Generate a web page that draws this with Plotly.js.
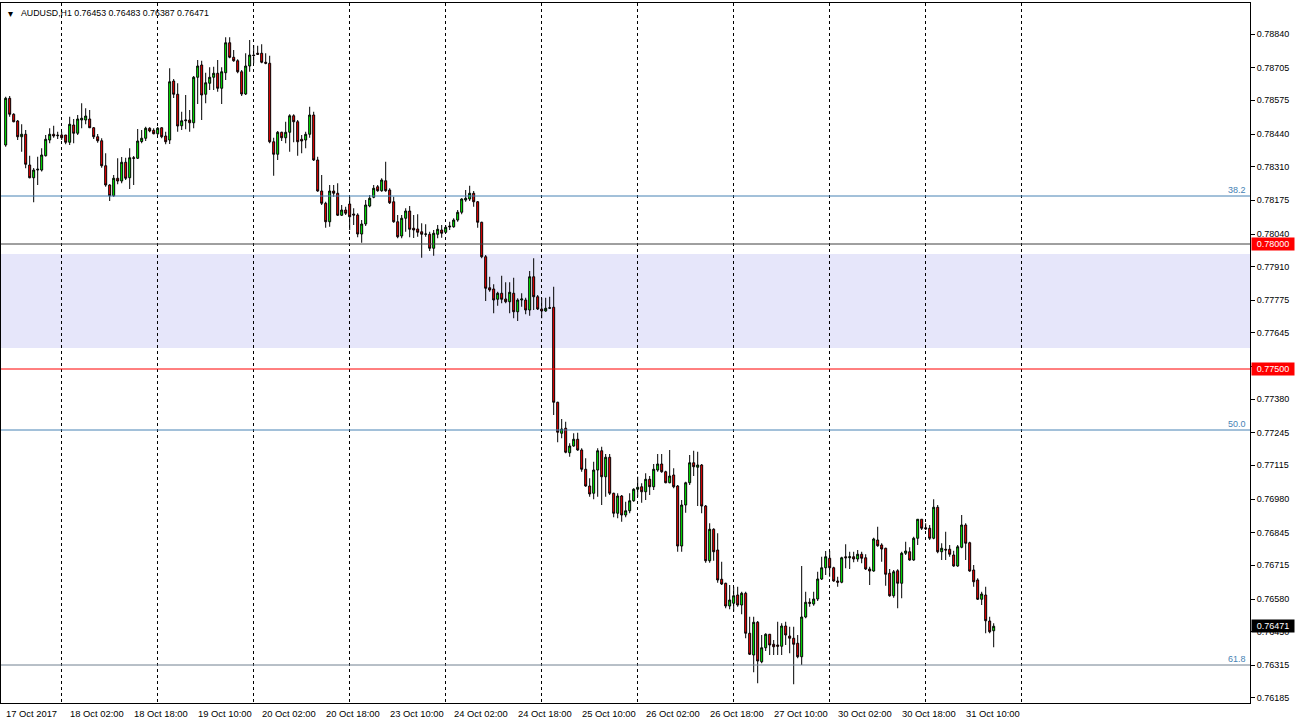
<!DOCTYPE html>
<html><head><meta charset="utf-8">
<script src="https://cdn.plot.ly/plotly-3.0.1.min.js"></script>
<style>html,body{margin:0;padding:0;background:#fff;}#chart{width:1296px;height:725px;}</style>
</head><body><div id="chart"></div>
<script>
const symbolTitle = "AUDUSD,H1";
const lastOHLC = ["0.76453", "0.76483", "0.76387", "0.76471"];

const openP = [0.78396,0.78583,0.78519,0.78492,0.78429,0.78439,0.78316,0.78265,0.78296,0.78296,0.78353,0.78416,0.78439,0.78433,0.78436,0.78436,0.78407,0.78476,0.78443,0.78496,0.78496,0.78500,0.78465,0.78429,0.78413,0.78313,0.78236,0.78193,0.78263,0.78252,0.78327,0.78265,0.78345,0.78343,0.78410,0.78423,0.78463,0.78455,0.78441,0.78465,0.78432,0.78416,0.78652,0.78599,0.78473,0.78493,0.78496,0.78485,0.78667,0.78716,0.78599,0.78643,0.78667,0.78683,0.78623,0.78685,0.78805,0.78747,0.78733,0.78689,0.78600,0.78712,0.78756,0.78763,0.78763,0.78727,0.78723,0.78409,0.78359,0.78447,0.78425,0.78447,0.78513,0.78489,0.78419,0.78416,0.78439,0.78516,0.78336,0.78212,0.78163,0.78089,0.78212,0.78203,0.78115,0.78136,0.78160,0.78120,0.78116,0.78040,0.78080,0.78152,0.78187,0.78229,0.78213,0.78253,0.78216,0.78169,0.78089,0.78032,0.78103,0.78132,0.78063,0.78060,0.78049,0.78039,0.78039,0.77983,0.78039,0.78056,0.78047,0.78072,0.78069,0.78096,0.78127,0.78176,0.78180,0.78203,0.78169,0.78087,0.77949,0.77825,0.77820,0.77779,0.77803,0.77780,0.77769,0.77803,0.77729,0.77776,0.77776,0.77736,0.77869,0.77789,0.77740,0.77732,0.77743,0.77747,0.77367,0.77243,0.77263,0.77165,0.77192,0.77219,0.77176,0.77099,0.77032,0.77003,0.77096,0.77173,0.77069,0.77147,0.77003,0.76923,0.76992,0.76916,0.76933,0.76973,0.77019,0.77029,0.77009,0.77059,0.77029,0.77096,0.77120,0.77089,0.77045,0.77076,0.77032,0.76792,0.76956,0.77045,0.77125,0.77107,0.77116,0.76952,0.76733,0.76859,0.76776,0.76659,0.76643,0.76552,0.76563,0.76596,0.76556,0.76603,0.76443,0.76356,0.76487,0.76329,0.76385,0.76439,0.76399,0.76396,0.76391,0.76472,0.76432,0.76423,0.76403,0.76349,0.76508,0.76567,0.76560,0.76580,0.76660,0.76705,0.76743,0.76705,0.76652,0.76647,0.76749,0.76745,0.76749,0.76740,0.76759,0.76745,0.76700,0.76692,0.76816,0.76796,0.76783,0.76683,0.76593,0.76693,0.76643,0.76763,0.76769,0.76736,0.76823,0.76899,0.76865,0.76863,0.76823,0.76947,0.76769,0.76779,0.76779,0.76756,0.76712,0.76787,0.76876,0.76805,0.76696,0.76656,0.76579,0.76596,0.76492,0.76453];
const highP = [0.78589,0.78592,0.78523,0.78496,0.78479,0.78456,0.78353,0.78304,0.78349,0.78383,0.78436,0.78463,0.78473,0.78449,0.78449,0.78436,0.78509,0.78500,0.78516,0.78563,0.78543,0.78536,0.78468,0.78440,0.78423,0.78363,0.78239,0.78276,0.78343,0.78348,0.78345,0.78383,0.78352,0.78460,0.78456,0.78469,0.78467,0.78463,0.78468,0.78467,0.78449,0.78703,0.78660,0.78643,0.78529,0.78596,0.78536,0.78672,0.78736,0.78733,0.78685,0.78707,0.78709,0.78736,0.78707,0.78827,0.78827,0.78776,0.78739,0.78696,0.78763,0.78816,0.78796,0.78793,0.78799,0.78763,0.78753,0.78425,0.78452,0.78449,0.78489,0.78519,0.78519,0.78496,0.78436,0.78449,0.78549,0.78529,0.78349,0.78276,0.78169,0.78236,0.78236,0.78243,0.78156,0.78149,0.78189,0.78143,0.78123,0.78096,0.78176,0.78196,0.78236,0.78236,0.78263,0.78329,0.78223,0.78189,0.78116,0.78116,0.78143,0.78152,0.78116,0.78119,0.78083,0.78079,0.78049,0.78056,0.78076,0.78076,0.78076,0.78089,0.78103,0.78136,0.78183,0.78216,0.78233,0.78212,0.78172,0.78089,0.77956,0.77869,0.77839,0.77809,0.77873,0.77847,0.77847,0.77865,0.77783,0.77803,0.77785,0.77892,0.77943,0.77796,0.77785,0.77785,0.77789,0.77829,0.77369,0.77300,0.77289,0.77203,0.77243,0.77245,0.77183,0.77143,0.77063,0.77129,0.77183,0.77189,0.77160,0.77160,0.77005,0.77003,0.76996,0.76969,0.77003,0.77023,0.77069,0.77043,0.77083,0.77072,0.77120,0.77160,0.77160,0.77093,0.77176,0.77103,0.77036,0.76976,0.77049,0.77156,0.77173,0.77169,0.77120,0.76956,0.76883,0.76863,0.76843,0.76729,0.76645,0.76636,0.76629,0.76629,0.76609,0.76609,0.76509,0.76509,0.76492,0.76436,0.76443,0.76440,0.76416,0.76489,0.76483,0.76489,0.76469,0.76469,0.76436,0.76712,0.76609,0.76583,0.76609,0.76689,0.76749,0.76772,0.76772,0.76709,0.76669,0.76749,0.76799,0.76769,0.76769,0.76776,0.76769,0.76759,0.76709,0.76825,0.76869,0.76803,0.76785,0.76700,0.76696,0.76699,0.76769,0.76809,0.76787,0.76829,0.76899,0.76899,0.76883,0.76876,0.76979,0.76956,0.76803,0.76849,0.76796,0.76773,0.76796,0.76916,0.76883,0.76809,0.76716,0.76663,0.76609,0.76629,0.76509,0.76483];
const lowP = [0.78389,0.78509,0.78487,0.78416,0.78369,0.78303,0.78263,0.78167,0.78236,0.78290,0.78350,0.78403,0.78425,0.78420,0.78416,0.78399,0.78396,0.78403,0.78436,0.78463,0.78479,0.78464,0.78420,0.78405,0.78305,0.78229,0.78172,0.78189,0.78239,0.78243,0.78256,0.78220,0.78236,0.78340,0.78403,0.78412,0.78447,0.78439,0.78436,0.78423,0.78399,0.78400,0.78584,0.78449,0.78456,0.78459,0.78449,0.78463,0.78560,0.78496,0.78563,0.78616,0.78616,0.78609,0.78560,0.78656,0.78743,0.78729,0.78683,0.78592,0.78596,0.78689,0.78723,0.78756,0.78723,0.78719,0.78403,0.78273,0.78336,0.78412,0.78403,0.78369,0.78407,0.78353,0.78363,0.78383,0.78425,0.78332,0.78209,0.78156,0.78065,0.78069,0.78189,0.78112,0.78112,0.78116,0.78056,0.78076,0.78027,0.78005,0.78072,0.78147,0.78183,0.78209,0.78209,0.78209,0.78160,0.78085,0.78023,0.78023,0.78049,0.78027,0.78024,0.78029,0.77945,0.78029,0.77972,0.77953,0.78023,0.78025,0.78043,0.78056,0.78065,0.78089,0.78119,0.78169,0.78172,0.78149,0.78065,0.77943,0.77772,0.77809,0.77723,0.77753,0.77763,0.77763,0.77723,0.77703,0.77692,0.77749,0.77719,0.77713,0.77736,0.77736,0.77703,0.77729,0.77740,0.77316,0.77207,0.77223,0.77163,0.77149,0.77189,0.77173,0.77089,0.77029,0.76989,0.76979,0.76989,0.76956,0.76989,0.76996,0.76907,0.76903,0.76889,0.76907,0.76923,0.76969,0.76989,0.76965,0.76976,0.76996,0.77016,0.77089,0.77085,0.77043,0.77043,0.77023,0.76769,0.76769,0.76925,0.77036,0.77072,0.76952,0.76923,0.76725,0.76725,0.76733,0.76645,0.76636,0.76543,0.76539,0.76530,0.76549,0.76519,0.76423,0.76356,0.76287,0.76243,0.76323,0.76372,0.76356,0.76356,0.76356,0.76356,0.76396,0.76363,0.76239,0.76343,0.76316,0.76503,0.76549,0.76553,0.76572,0.76656,0.76676,0.76669,0.76649,0.76629,0.76643,0.76703,0.76700,0.76727,0.76729,0.76723,0.76696,0.76636,0.76689,0.76789,0.76729,0.76633,0.76589,0.76585,0.76543,0.76583,0.76756,0.76733,0.76733,0.76796,0.76856,0.76856,0.76816,0.76819,0.76763,0.76736,0.76736,0.76749,0.76709,0.76709,0.76783,0.76736,0.76689,0.76629,0.76576,0.76556,0.76443,0.76443,0.76387];
const closeP = [0.78583,0.78519,0.78489,0.78429,0.78439,0.78319,0.78265,0.78296,0.78299,0.78356,0.78419,0.78439,0.78432,0.78435,0.78425,0.78407,0.78479,0.78443,0.78500,0.78503,0.78512,0.78465,0.78429,0.78413,0.78313,0.78236,0.78193,0.78263,0.78252,0.78327,0.78263,0.78345,0.78343,0.78412,0.78423,0.78463,0.78452,0.78441,0.78463,0.78429,0.78409,0.78649,0.78599,0.78472,0.78493,0.78496,0.78485,0.78667,0.78712,0.78596,0.78645,0.78667,0.78683,0.78623,0.78689,0.78805,0.78747,0.78733,0.78689,0.78600,0.78712,0.78756,0.78754,0.78759,0.78727,0.78723,0.78409,0.78359,0.78447,0.78425,0.78447,0.78513,0.78489,0.78409,0.78412,0.78439,0.78516,0.78336,0.78212,0.78163,0.78089,0.78212,0.78203,0.78115,0.78136,0.78123,0.78109,0.78116,0.78040,0.78080,0.78156,0.78183,0.78223,0.78213,0.78256,0.78213,0.78165,0.78089,0.78029,0.78103,0.78132,0.78059,0.78056,0.78047,0.78039,0.78040,0.77983,0.78043,0.78059,0.78043,0.78067,0.78069,0.78096,0.78127,0.78180,0.78183,0.78203,0.78169,0.78087,0.77949,0.77823,0.77816,0.77776,0.77803,0.77779,0.77769,0.77807,0.77729,0.77776,0.77780,0.77736,0.77869,0.77789,0.77740,0.77732,0.77743,0.77745,0.77367,0.77247,0.77260,0.77167,0.77192,0.77219,0.77176,0.77099,0.77032,0.77000,0.77096,0.77173,0.77069,0.77147,0.77003,0.76923,0.76992,0.76916,0.76933,0.76973,0.77019,0.77027,0.77009,0.77059,0.77029,0.77099,0.77120,0.77089,0.77045,0.77072,0.77029,0.76792,0.76956,0.77045,0.77125,0.77109,0.77116,0.76952,0.76733,0.76859,0.76769,0.76656,0.76640,0.76552,0.76576,0.76593,0.76556,0.76603,0.76443,0.76359,0.76487,0.76332,0.76385,0.76439,0.76396,0.76389,0.76391,0.76472,0.76436,0.76423,0.76399,0.76349,0.76508,0.76567,0.76563,0.76580,0.76660,0.76705,0.76749,0.76705,0.76652,0.76647,0.76745,0.76745,0.76749,0.76740,0.76759,0.76743,0.76700,0.76692,0.76820,0.76793,0.76780,0.76679,0.76593,0.76689,0.76643,0.76763,0.76772,0.76736,0.76823,0.76899,0.76863,0.76861,0.76823,0.76947,0.76769,0.76783,0.76776,0.76759,0.76712,0.76789,0.76876,0.76803,0.76692,0.76649,0.76579,0.76600,0.76493,0.76449,0.76471];

const timeLabels = ["17 Oct 2017","18 Oct 02:00","18 Oct 18:00","19 Oct 10:00","20 Oct 02:00","20 Oct 18:00","23 Oct 10:00","24 Oct 02:00","24 Oct 18:00","25 Oct 10:00","26 Oct 02:00","26 Oct 18:00","27 Oct 10:00","30 Oct 02:00","30 Oct 18:00","31 Oct 10:00"];
const labelEveryBars = 16;
const firstDayStartBar = 14;   // 18 Oct 00:00
const barsPerDay = 24;
const priceTicks = [0.78840,0.78705,0.78575,0.78440,0.78310,0.78175,0.78040,0.77910,0.77775,0.77645,0.77510,0.77380,0.77245,0.77115,0.76980,0.76845,0.76715,0.76580,0.76450,0.76315,0.76185];

const fibLevels = [0.78192, 0.77256, 0.76316];
const fibNames = ["38.2", "50.0", "61.8"];
const roundLevels = [0.78000, 0.77500];
const zoneBottom = 0.77584, zoneTop = 0.77960;

const xIdx = closeP.map((_, i) => i);
const dayStarts = [];
for (let b = firstDayStartBar; b <= xIdx.length + 7; b += barsPerDay) dayStarts.push(b);

const candles = {
  type: 'candlestick',
  x: xIdx, open: openP, high: highP, low: lowP, close: closeP,
  increasing: {line: {color: '#000000', width: 1}, fillcolor: '#00ff00'},
  decreasing: {line: {color: '#000000', width: 1}, fillcolor: '#ff0000'},
  whiskerwidth: 0,
  hoverinfo: 'skip',
  showlegend: false
};

const fibColor = '#4682b4';
const shapes = [
  {type:'rect', xref:'paper', x0:0, x1:1, yref:'y', y0:zoneBottom, y1:zoneTop, fillcolor:'#e6e6fa', line:{width:0}, layer:'below'},
  {type:'line', xref:'paper', x0:0, x1:1, yref:'y', y0:fibLevels[0], y1:fibLevels[0], line:{color:fibColor, width:1}},
  {type:'line', xref:'paper', x0:0, x1:1, yref:'y', y0:fibLevels[1], y1:fibLevels[1], line:{color:fibColor, width:1}},
  {type:'line', xref:'paper', x0:0, x1:1, yref:'y', y0:fibLevels[2], y1:fibLevels[2], line:{color:'#708090', width:1}},
  {type:'line', xref:'paper', x0:0, x1:1, yref:'y', y0:roundLevels[0], y1:roundLevels[0], line:{color:'#404040', width:1}},
  {type:'line', xref:'paper', x0:0, x1:1, yref:'y', y0:roundLevels[1], y1:roundLevels[1], line:{color:'#ff0000', width:1}}
];

const annotations = [];
const fnt = 'Liberation Sans, Arial, sans-serif';
timeLabels.forEach((t, k) => {
  annotations.push({xref:'x', x: k*labelEveryBars - 0.35, yref:'paper', y: 0, yshift: -3, xanchor:'left', yanchor:'top',
    text: t, showarrow:false, font:{family:fnt, size:9.4, color:'#000'}});
});
fibLevels.forEach((v, k) => {
  annotations.push({xref:'paper', x: 0.998, yref:'y', y: v, xanchor:'right', yanchor:'bottom', yshift:-1,
    text: fibNames[k], showarrow:false, font:{family:fnt, size:9, color: fibColor}});
});
roundLevels.forEach(v => {
  annotations.push({xref:'paper', x: 1, xshift: 1, yref:'y', y: v, xanchor:'left', yanchor:'middle',
    text: v.toFixed(5), showarrow:false, bgcolor:'#ff0000', borderpad:1, width:40,
    font:{family:fnt, size:9, color:'#ffffff'}});
});
annotations.push({xref:'paper', x: 1, xshift: 1, yref:'y', y: closeP[closeP.length-1], xanchor:'left', yanchor:'middle',
  text: closeP[closeP.length-1].toFixed(5), showarrow:false, bgcolor:'#000000', borderpad:1, width:40,
  font:{family:fnt, size:9, color:'#ffffff'}});
annotations.push({xref:'paper', x: 0, xshift: 5, yref:'paper', y: 1, yshift: -3, xanchor:'left', yanchor:'top',
  text: '\u25BE', showarrow:false, font:{family:'DejaVu Sans', size:10, color:'#000'}});
annotations.push({xref:'paper', x: 0, xshift: 18, yref:'paper', y: 1, yshift: -3, xanchor:'left', yanchor:'top',
  text: symbolTitle + ' ' + lastOHLC.join(' '), showarrow:false, font:{family:fnt, size:8.8, color:'#000'}});

const layout = {
  width: 1296, height: 725,
  margin: {l: 1, r: 46, t: 3, b: 22, pad: 0},
  paper_bgcolor: '#ffffff', plot_bgcolor: '#ffffff',
  showlegend: false,
  xaxis: {
    range: [-1.17, 311.08], rangeslider: {visible: false},
    showgrid: true, gridcolor: '#000000', gridwidth: 1, griddash: '3px,3px',
    tickmode: 'array', tickvals: dayStarts,
    showticklabels: false, ticks: '', zeroline: false,
    showline: true, linecolor: '#000000', linewidth: 1, mirror: true
  },
  yaxis: {
    side: 'right', range: [0.76164, 0.78964],
    tickmode: 'array', tickvals: priceTicks, ticktext: priceTicks.map(v => v.toFixed(5)),
    ticks: 'outside', ticklen: 4, tickcolor: '#000', tickfont: {family: fnt, size: 9, color: '#000'},
    showgrid: false, zeroline: false,
    showline: true, linecolor: '#000000', linewidth: 1, mirror: true
  },
  shapes: shapes,
  annotations: annotations
};

Plotly.newPlot('chart', [candles], layout, {displayModeBar: false, staticPlot: true});
</script>
</body></html>
